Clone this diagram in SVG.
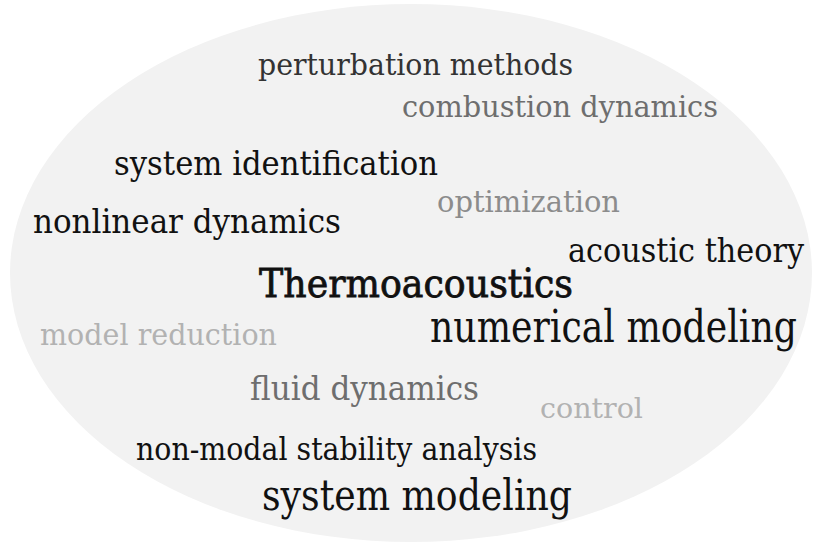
<svg xmlns="http://www.w3.org/2000/svg" width="816" height="545" viewBox="0 0 816 545">
  <style>
    text { font-family: "DejaVu Serif", "Liberation Serif", serif; }
    .k1 { fill: #111111; }
    .k2 { fill: #333333; }
    .k3 { fill: #6e6e6e; }
    .k4 { fill: #8c8c8c; }
    .k5 { fill: #b2b2b2; }
    .semi { stroke: #111111; stroke-width: 0.8; }
  </style>
  <!-- backdrop -->
  <ellipse cx="411" cy="273" rx="401" ry="269" fill="#f2f2f2"/>
  <g id="terms">
    <text id="t-perturbation" class="k2" x="258" y="75" font-size="30" textLength="315" lengthAdjust="spacingAndGlyphs">perturbation methods</text>
    <text id="t-combustion" class="k3" x="402" y="117" font-size="29" textLength="316" lengthAdjust="spacingAndGlyphs">combustion dynamics</text>
    <text id="t-sysid" class="k1" x="114" y="175" font-size="34" textLength="324" lengthAdjust="spacingAndGlyphs">system identification</text>
    <text id="t-optimization" class="k4" x="437" y="212" font-size="29" textLength="183" lengthAdjust="spacingAndGlyphs">optimization</text>
    <text id="t-nonlinear" class="k1" x="33" y="233" font-size="33" textLength="308" lengthAdjust="spacingAndGlyphs">nonlinear dynamics</text>
    <text id="t-acoustic" class="k1" x="568" y="262" font-size="33" textLength="236" lengthAdjust="spacingAndGlyphs">acoustic theory</text>
    <text id="t-thermo" class="k1 semi" x="259" y="297" font-size="40" textLength="314" lengthAdjust="spacingAndGlyphs">Thermoacoustics</text>
    <text id="t-numerical" class="k1" x="430" y="342" font-size="44" textLength="367" lengthAdjust="spacingAndGlyphs">numerical modeling</text>
    <text id="t-reduction" class="k5" x="40" y="345" font-size="29" textLength="237" lengthAdjust="spacingAndGlyphs">model reduction</text>
    <text id="t-fluid" class="k3" x="250" y="400" font-size="33" textLength="229" lengthAdjust="spacingAndGlyphs">fluid dynamics</text>
    <text id="t-control" class="k5" x="540" y="418" font-size="28" textLength="103" lengthAdjust="spacingAndGlyphs">control</text>
    <text id="t-nonmodal" class="k1" x="136" y="460" font-size="31" textLength="401" lengthAdjust="spacingAndGlyphs">non-modal stability analysis</text>
    <text id="t-sysmod" class="k1" x="262" y="510" font-size="43" textLength="310" lengthAdjust="spacingAndGlyphs">system modeling</text>
  </g>
</svg>
